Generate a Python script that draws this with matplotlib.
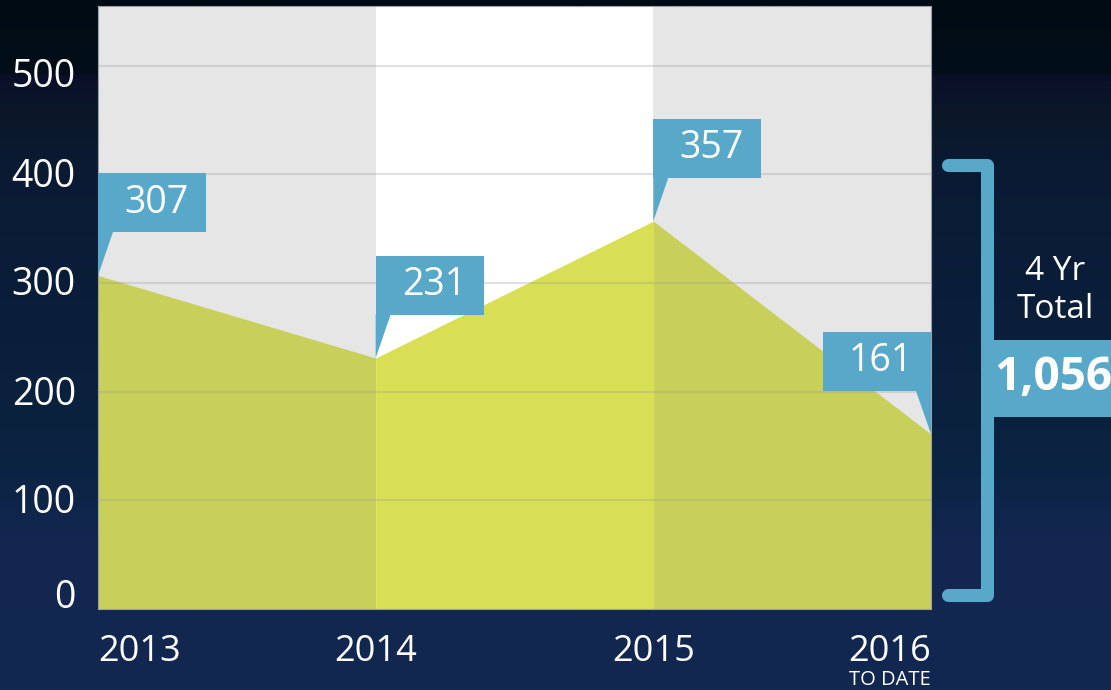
import matplotlib
matplotlib.use('Agg')
import matplotlib.pyplot as plt
import matplotlib.transforms as mtransforms
import numpy as np
from matplotlib.patches import Rectangle, Polygon
from matplotlib.colors import LinearSegmentedColormap
from matplotlib.lines import Line2D

plt.rcParams['font.family'] = ['Open Sans', 'DejaVu Sans']

# data
years = ['2013', '2014', '2015', '2016']
counts = [307, 231, 357, 161]
total_label = '1,056'
yticks = [0, 100, 200, 300, 400, 500]

W, H = 1111, 690
BLUE = '#58a9c9'
band_colors = ['#e6e6e6', '#ffffff', '#e6e6e6']
fill_colors = ['#c9d05a', '#d8df55', '#c9d05a']

fig = plt.figure(figsize=(W / 100, H / 100), dpi=100)


def fx(px):
    return px / W


def fy(py):
    return 1 - py / H


# dark background gradient
bg = fig.add_axes([0, 0, 1, 1])
bg.set_axis_off()
stops = [(0.0, '#010b14'), (0.10, '#020e18'), (0.11, '#0a1029'),
         (0.17, '#0a1828'), (0.23, '#0a1a33'), (0.50, '#0b1f3b'),
         (0.66, '#0a2340'), (0.78, '#12264f'), (1.0, '#13284f')]
cmap = LinearSegmentedColormap.from_list('bg', stops)
grad = np.linspace(0, 1, 400).reshape(-1, 1)
bg.imshow(grad, aspect='auto', cmap=cmap, extent=[0, 1, 0, 1], origin='upper')
bg.set_xlim(0, 1)
bg.set_ylim(0, 1)

ax = fig.add_axes([fx(98), 1 - 609 / H, fx(931) - fx(98), (609 - 6) / H])
x = np.arange(len(years))
ax.set_xlim(x[0], x[-1])
ax.set_ylim(0, 555)

# alternating background bands
for i in range(len(years) - 1):
    ax.axvspan(x[i], x[i + 1], color=band_colors[i], zorder=0, lw=0)
    ax.fill_between(x[i:i + 2], counts[i:i + 2], 0, color=fill_colors[i],
                    zorder=1, lw=0)

for t in yticks[1:]:
    ax.axhline(t, color='#9a9a9a', alpha=0.3, lw=1.5, zorder=2)

# callouts
bw, bh, gap, ptr = 0.389, 54, 40, 0.054
for i, v in enumerate(counts):
    bot = v + gap
    if i == len(counts) - 1:
        left = x[i] - bw
        tri = [(x[i] - ptr, bot), (x[i], bot), (x[i], v)]
    else:
        left = x[i]
        tri = [(x[i], bot), (x[i] + ptr, bot), (x[i], v)]
    ax.add_patch(Rectangle((left, bot), bw, bh, color=BLUE, lw=0, zorder=4))
    ax.add_patch(Polygon(tri, closed=True, color=BLUE, lw=0, zorder=4))
    ax.text(left + bw / 2 + 0.015, bot + bh / 2, str(v), color='white',
            fontsize=27, ha='center', va='center', zorder=5)

ax.set_yticks(yticks)
ax.set_yticklabels([str(t) for t in yticks])
ax.set_xticks(x)
ax.set_xticklabels(years)
ax.tick_params(axis='y', length=0, pad=16, labelsize=27, labelcolor='white')
ax.tick_params(axis='x', length=0, pad=18, labelsize=26, labelcolor='white')
labs = ax.get_xticklabels()
labs[0].set_ha('left')
labs[-1].set_ha('right')
# the y labels in the original sit a little off their gridlines
shifts = [15, 2, 1, 3, 2, -7]
for lab, d in zip(ax.get_yticklabels(), shifts):
    off = mtransforms.ScaledTranslation(0, d / 100, fig.dpi_scale_trans)
    lab.set_transform(lab.get_transform() + off)
ax.text(x[-1], -0.118, 'TO DATE', transform=ax.get_xaxis_transform(),
        color='white', fontsize=14.5, ha='right', va='center')

for s in ax.spines.values():
    s.set_color('#9aa0a6')
    s.set_linewidth(0.8)

# bracket with the total
xs = [fx(948), fx(986.5), fx(986.5), fx(948)]
ys = [fy(164.5), fy(164.5), fy(595), fy(595)]
fig.add_artist(Line2D(xs, ys, transform=fig.transFigure, color=BLUE, lw=9.4,
                      solid_capstyle='round', solid_joinstyle='round'))
fig.add_artist(Rectangle((fx(986), fy(417)), 1 - fx(986), fy(340) - fy(417),
                         transform=fig.transFigure, color=BLUE, lw=0))
fig.text(fx(1055), fy(271), '4 Yr', color='white', fontsize=24,
         ha='center', va='center')
fig.text(fx(1055), fy(310), 'Total', color='white', fontsize=24,
         ha='center', va='center')
fig.text(fx(994), fy(378), total_label, color='white', fontsize=33,
         fontweight='bold', ha='left', va='center')

fig.savefig('out.png', dpi=100)
